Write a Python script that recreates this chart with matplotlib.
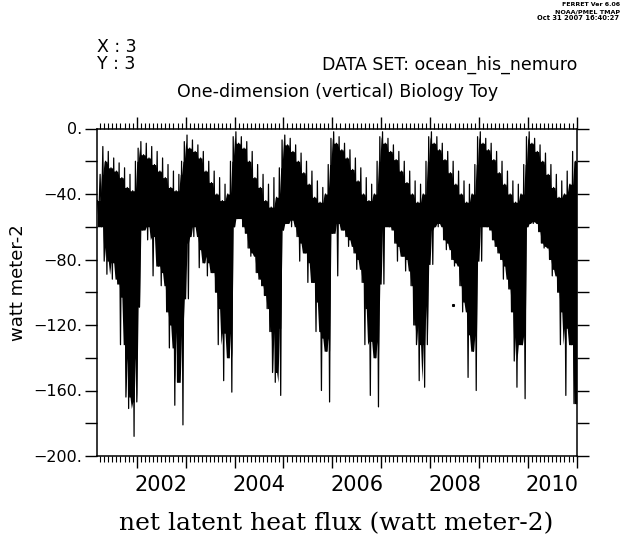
import numpy as np
import matplotlib
matplotlib.use("Agg")
import matplotlib.pyplot as plt
from matplotlib.ticker import MultipleLocator, FuncFormatter

W, H = 626, 539

# net latent heat flux (W m-2), every ~10 days (1/36 yr);
# the values swing between the top and the bottom of the daily scatter
t_start = 2002 - 29 / 36
step = 1 / 36

flux_2001 = [-44, -54, -28, -60, -11, -81, -20, -89, -14, -72, -24, -92, -18, -82, -26,
             -95, -21, -132, -30, -103, -24, -164, -36, -171, -28, -140, -38, -188, -20]
flux_2002 = [-167, -12, -109, -8, -62, -16, -55, -9, -68, -18, -60, -11,
             -90, -22, -66, -14, -84, -26, -96, -18, -88, -30, -112, -22,
             -134, -36, -120, -26, -169, -38, -155, -28, -124, -20, -181, -8]
flux_2003 = [-70, -4, -104, -12, -58, -7, -66, -14, -60, -10, -85, -18,
             -74, -14, -82, -26, -90, -20, -78, -33, -88, -26, -100, -40,
             -132, -30, -110, -44, -154, -34, -125, -40, -140, -20, -161, -5]
flux_2004 = [-60, -2, -55, -9, -48, -5, -60, -12, -64, -8, -73, -20,
             -78, -14, -76, -30, -88, -22, -92, -36, -96, -28, -102, -44,
             -110, -34, -124, -48, -149, -30, -155, -42, -122, -24, -163, -7]
flux_2005 = [-62, -4, -58, -10, -52, -6, -60, -14, -56, -10, -66, -20,
             -81, -15, -70, -27, -76, -20, -94, -34, -82, -26, -94, -42,
             -124, -32, -106, -45, -160, -36, -128, -40, -136, -22, -167, -6]
flux_2006 = [-64, -2, -58, -9, -90, -5, -55, -13, -62, -9, -66, -18,
             -72, -13, -68, -25, -76, -18, -86, -32, -80, -24, -94, -40,
             -132, -30, -110, -44, -163, -34, -130, -40, -140, -20, -170, -5]
flux_2007 = [-60, -2, -95, -9, -55, -6, -60, -14, -62, -10, -70, -19,
             -81, -14, -72, -26, -78, -20, -87, -33, -80, -26, -96, -40,
             -120, -32, -132, -45, -154, -34, -108, -40, -158, -20, -132, -5]
flux_2008 = [-62, -2, -83, -9, -56, -5, -60, -13, -58, -9, -68, -19,
             -74, -14, -70, -27, -80, -20, -84, -34, -82, -26, -96, -40,
             -112, -32, -106, -45, -152, -34, -126, -40, -136, -22, -160, -5]
flux_2009 = [-60, -2, -81, -9, -55, -6, -60, -13, -62, -9, -68, -19,
             -72, -14, -76, -27, -80, -20, -92, -34, -84, -26, -98, -40,
             -112, -32, -142, -45, -158, -34, -126, -40, -132, -22, -165, -5]
flux_2010 = [-60, -2, -56, -9, -58, -6, -57, -14, -63, -10, -70, -20,
             -73, -15, -72, -28, -80, -22, -90, -36, -86, -28, -100, -42,
             -132, -32, -112, -40, -163, -26, -122, -34, -132, -14, -168, -20, -168]

# one stray point drawn in the middle of the 2008 panel
stray_t = [2008.46]
stray_v = [-108]

flux = np.array(flux_2001 + flux_2002 + flux_2003 + flux_2004 + flux_2005
                + flux_2006 + flux_2007 + flux_2008 + flux_2009 + flux_2010, dtype=float)
t = t_start + np.arange(len(flux)) * step

# solid core of the scatter: lowest nearby peak down to the second
# shallowest nearby trough, so single deep days stay thin spikes
n = len(flux)
padded = np.concatenate(([-np.inf], flux, [-np.inf]))
is_hi = (flux >= padded[:-2]) & (flux >= padded[2:])
core_top = np.empty(n)
core_bot = np.empty(n)
for i in range(n):
    w2 = slice(max(0, i - 2), min(n, i + 3))
    w3 = slice(max(0, i - 3), min(n, i + 4))
    hi_near = flux[w2][is_hi[w2]]
    lo_near = np.sort(flux[w3][~is_hi[w3]])[::-1]
    core_top[i] = hi_near.min() if hi_near.size else flux[i]
    core_bot[i] = lo_near[1] if lo_near.size > 1 else flux[i]

fig = plt.figure(figsize=(W / 100, H / 100), dpi=100)
fig.patch.set_facecolor("white")

left, right, top, bottom = 96.7, 576.7, 128.5, 456.0
ax = fig.add_axes([left / W, 1 - bottom / H, (right - left) / W, (bottom - top) / H])

ax.fill_between(t, core_bot, core_top, color="black", lw=0)
ax.plot(t, flux, color="black", lw=0.9)
ax.plot(stray_t, stray_v, "s", color="black", ms=1.2)

ax.set_xlim(2001.18, 2011.0)
ax.set_ylim(-200, 0)

for s in ax.spines.values():
    s.set_linewidth(1.1)

ax.xaxis.set_major_locator(MultipleLocator(1))
ax.xaxis.set_minor_locator(MultipleLocator(1 / 12))
ax.xaxis.set_major_formatter(FuncFormatter(lambda v, p: ""))
ax.tick_params(axis="x", which="major", direction="out", length=8.5, width=1,
               top=True, bottom=True)
ax.tick_params(axis="x", which="minor", direction="out", length=4.3, width=0.8,
               top=True, bottom=True)

ax.yaxis.set_major_locator(MultipleLocator(20))
ax.yaxis.set_major_formatter(FuncFormatter(
    lambda v, p: (f"{abs(v):.0f}." if v == 0 else f"\u2212{abs(v):.0f}.") if int(round(v)) % 40 == 0 else ""))
ax.tick_params(axis="y", which="major", direction="out", length=8.5, width=1,
               left=True, right=True, labelsize=11.5, pad=2)

for yr in range(2002, 2011, 2):
    ax.text(yr + 0.5, -0.088, str(yr), transform=ax.get_xaxis_transform(),
            ha="center", va="center", fontsize=15)

def px(x, y):
    return x / W, 1 - y / H

fig.text(*px(336.5, 524), "net latent heat flux (watt meter-2)", family="DejaVu Serif",
         fontsize=18, ha="center", va="center")
fig.text(*px(18, 283), "watt meter-2", rotation=90, fontsize=13, ha="center", va="center")
fig.text(*px(338, 92), "One-dimension (vertical) Biology Toy", fontsize=12.5,
         ha="center", va="center")
fig.text(*px(577, 65), "DATA SET: ocean_his_nemuro", fontsize=12.5, ha="right", va="center")
fig.text(*px(97, 47), "X : 3", fontsize=12.5, ha="left", va="center")
fig.text(*px(97, 64), "Y : 3", fontsize=12.5, ha="left", va="center")
fig.text(*px(591, 5), "FERRET Ver 6.06", fontsize=4.5, weight="bold", ha="center", va="center")
fig.text(*px(588, 11.5), "NOAA/PMEL TMAP", fontsize=4.6, weight="bold", ha="center", va="center")
fig.text(*px(578, 18), "Oct 31 2007 16:40:27", fontsize=4.9, weight="bold",
         ha="center", va="center")

fig.savefig("out.png", dpi=100)
